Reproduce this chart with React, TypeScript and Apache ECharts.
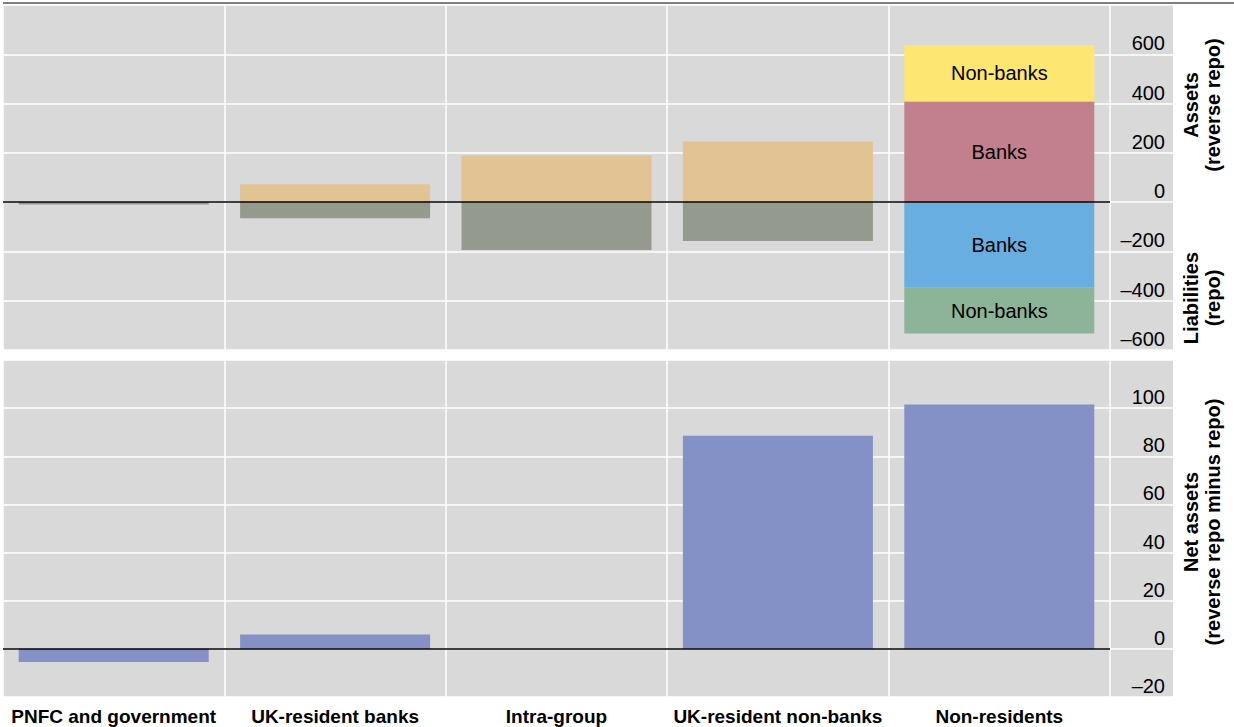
import React, { useEffect, useRef } from "react";
import * as echarts from "echarts";

const categories = ["PNFC and government", "UK-resident banks", "Intra-group", "UK-resident non-banks", "Non-residents"];
const assetsResident = [1, 73, 190, 246, "-"];
const liabilitiesResident = [-10, -65, -194, -158, "-"];
const nonResBanksAssets = ["-", "-", "-", "-", 408];
const nonResNonBanksAssets = ["-", "-", "-", "-", 230];
const nonResBanksLiab = ["-", "-", "-", "-", -347];
const nonResNonBanksLiab = ["-", "-", "-", "-", -186];
const netAssets = [-5.5, 6, 0, 88.5, 101.5];

const GRAY = "#d9d9d9";
const FONT = "Liberation Sans, Arial, sans-serif";

export default function App() {
  const ref = useRef<HTMLDivElement>(null);
  useEffect(() => {
    const chart = echarts.init(ref.current!, null, { renderer: "svg" });
    const tickLabel = (hide: number) => ({
      inside: true,
      margin: 8,
      fontSize: 20,
      color: "#000",
      fontFamily: FONT,
      verticalAlign: "bottom",
      padding: [0, 0, 1, 0],
      formatter: (v: number) => (v === hide ? "" : v < 0 ? "\u2013" + Math.abs(v) : String(v)),
    });
    const split = { show: true, lineStyle: { color: "#fff", width: 1.5 } };
    const barBase = { type: "bar", barWidth: 190, stack: "t", xAxisIndex: 0, yAxisIndex: 0 };
    const inLabel = (txt: string) => ({ show: true, formatter: txt, color: "#000", fontSize: 20, fontFamily: FONT });
    const zeroLine = {
      silent: true, symbol: "none", label: { show: false },
      lineStyle: { color: "#000", width: 1.5, type: "solid" }, data: [{ yAxis: 0 }],
    };
    chart.setOption({
      animation: false,
      grid: [
        { left: 3, right: 124, top: 5, height: 345, show: true, backgroundColor: GRAY, borderWidth: 0 },
        { left: 3, right: 124, top: 360, height: 337, show: true, backgroundColor: GRAY, borderWidth: 0 },
        { left: 1110, right: 61, top: 5, height: 345, show: true, backgroundColor: GRAY, borderWidth: 0 },
        { left: 1110, right: 61, top: 360, height: 337, show: true, backgroundColor: GRAY, borderWidth: 0 },
      ],
      xAxis: [
        { type: "category", gridIndex: 0, data: categories, axisLabel: { show: false }, axisTick: { show: false }, axisLine: { show: false }, splitLine: { ...split, interval: 0 } },
        { type: "category", gridIndex: 1, data: categories, axisTick: { show: false }, axisLine: { show: false }, splitLine: { ...split, interval: 0 },
          axisLabel: { margin: 10, fontSize: 19, fontWeight: "bold", color: "#000", fontFamily: FONT, interval: 0 } },
        { type: "value", gridIndex: 2, min: 0, max: 1, show: false },
        { type: "value", gridIndex: 3, min: 0, max: 1, show: false },
      ],
      yAxis: [
        { type: "value", gridIndex: 0, min: -600, max: 800, interval: 200, axisLabel: { show: false }, axisLine: { show: false }, axisTick: { show: false }, splitLine: split },
        { type: "value", gridIndex: 1, min: -20, max: 120, interval: 20, axisLabel: { show: false }, axisLine: { show: false }, axisTick: { show: false }, splitLine: split },
        { type: "value", gridIndex: 2, position: "right", min: -600, max: 800, interval: 200, axisLabel: tickLabel(800), axisLine: { show: false }, axisTick: { show: false }, splitLine: split },
        { type: "value", gridIndex: 3, position: "right", min: -20, max: 120, interval: 20, axisLabel: tickLabel(120), axisLine: { show: false }, axisTick: { show: false }, splitLine: split },
      ],
      series: [
        { ...barBase, name: "assets", data: assetsResident, itemStyle: { color: "#e2c393" }, markLine: zeroLine },
        { ...barBase, name: "liab", data: liabilitiesResident, itemStyle: { color: "#959a8e" } },
        { ...barBase, name: "banksA", data: nonResBanksAssets, itemStyle: { color: "#c27f8e" }, label: inLabel("Banks") },
        { ...barBase, name: "nonbanksA", data: nonResNonBanksAssets, itemStyle: { color: "#fde671" }, label: inLabel("Non-banks") },
        { ...barBase, name: "banksL", data: nonResBanksLiab, itemStyle: { color: "#69aee0" }, label: inLabel("Banks") },
        { ...barBase, name: "nonbanksL", data: nonResNonBanksLiab, itemStyle: { color: "#8db398" }, label: inLabel("Non-banks") },
        { type: "bar", barWidth: 190, xAxisIndex: 1, yAxisIndex: 1, data: netAssets, itemStyle: { color: "#8391c6" }, markLine: zeroLine },
      ],
      graphic: [
        { type: "line", shape: { x1: 3, y1: 3, x2: 1234, y2: 3 }, style: { stroke: "#000", lineWidth: 1 } },
        { type: "text", x: 1202, y: 105, rotation: Math.PI / 2,
          style: { text: "Assets\n(reverse repo)", align: "center", verticalAlign: "middle", font: `bold 20px ${FONT}`, lineHeight: 22, fill: "#000" } },
        { type: "text", x: 1202, y: 298, rotation: Math.PI / 2,
          style: { text: "Liabilities\n(repo)", align: "center", verticalAlign: "middle", font: `bold 20px ${FONT}`, lineHeight: 22, fill: "#000" } },
        { type: "text", x: 1202, y: 522, rotation: Math.PI / 2,
          style: { text: "Net assets\n(reverse repo minus repo)", align: "center", verticalAlign: "middle", font: `bold 20px ${FONT}`, lineHeight: 22, fill: "#000" } },
      ],
    });
    return () => chart.dispose();
  }, []);
  return <div ref={ref} style={{ width: 1234, height: 727, position: "absolute", left: 0, top: 0 }} />;
}
